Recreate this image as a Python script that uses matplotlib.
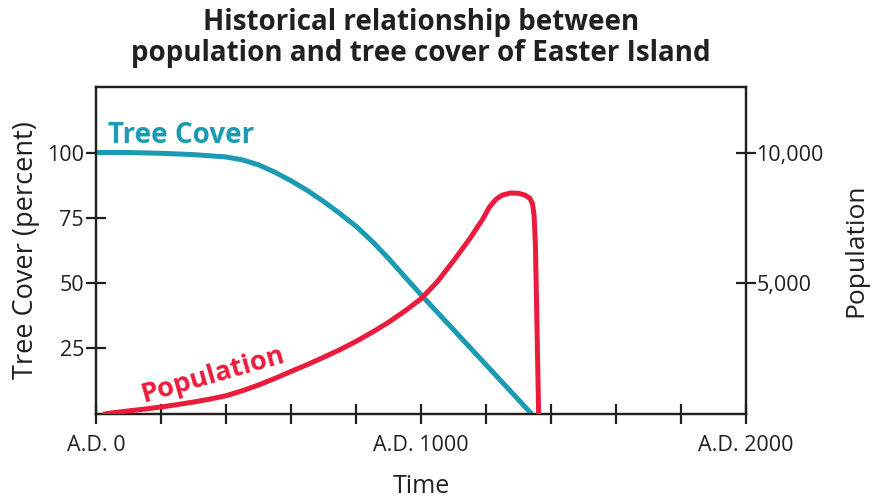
import numpy as np
import matplotlib.pyplot as plt

# tree cover (percent) by year
tree_years = [3, 100, 200, 300, 400, 450, 500, 550, 600, 650, 700, 750, 800, 850,
              900, 950, 1000, 1100, 1200, 1340]
tree_cover = [100, 100, 99.7, 99.2, 98.3, 97.2, 95.3, 92.5, 89.2, 85.5, 81.3, 76.7, 71.8, 66,
              59.5, 52.5, 45.6, 32.2, 18.8, 0]

# population by year
pop_years = [30, 60, 100, 150, 200, 250, 300, 350, 400, 450, 500, 550, 600, 650, 700, 750,
             800, 850, 900, 950, 1000, 1050, 1100, 1150, 1190, 1210, 1230, 1250, 1275,
             1300, 1320, 1335, 1343, 1348, 1352, 1356, 1359, 1362]
population = [0, 50, 110, 180, 260, 350, 450, 560, 690, 880, 1100, 1350, 1620, 1880, 2160,
              2450, 2770, 3120, 3500, 3930, 4400, 5050, 5850, 6700, 7450, 7900, 8200, 8370,
              8450, 8440, 8370, 8250, 8050, 7600, 6500, 4000, 2000, 0]

x_ticks = [0, 200, 400, 600, 800, 1000, 1200, 1400, 1600, 1800, 2000]
x_labels = ['A.D. 0', '', '', '', '', 'A.D. 1000', '', '', '', '', 'A.D. 2000']
tree_ticks = [25, 50, 75, 100]
pop_ticks = [5000, 10000]
pop_labels = ['5,000', '10,000']

teal = '#1b9ab3'
red = '#ec1b3b'
ink = '#231f20'

plt.rcParams['font.family'] = ['Open Sans', 'DejaVu Sans']

fig = plt.figure(figsize=(8.72, 5.04), dpi=100)
ax = fig.add_axes([0.110, 0.179, 0.7455, 0.648])
ax2 = ax.twinx()

ax.plot(tree_years, tree_cover, color=teal, lw=3.6, solid_capstyle='butt',
        solid_joinstyle='round', zorder=3)
ax2.plot(pop_years, population, color=red, lw=3.6, solid_joinstyle='round', zorder=3)

ax.set_xlim(0, 2000)
ax.set_ylim(0, 125)
ax2.set_ylim(0, 12500)

ax.set_xticks(x_ticks)
ax.set_xticklabels(x_labels)
ax.set_yticks(tree_ticks)
ax2.set_yticks(pop_ticks)
ax2.set_yticklabels(pop_labels)

for a in (ax, ax2):
    for s in a.spines.values():
        s.set_linewidth(1.6)
        s.set_color(ink)
    a.tick_params(direction='inout', length=15, width=1.6, color=ink,
                  labelcolor=ink, labelsize=15.5, pad=2)
ax.tick_params(axis='x', pad=8)
ax.tick_params(axis='y', pad=1)
ax2.tick_params(axis='y', pad=0)

ax.set_xlabel('Time', fontsize=18, color=ink, labelpad=13)
ax.set_ylabel('Tree Cover (percent)', fontsize=19.5, color=ink, labelpad=5)
ax2.set_ylabel('Population', fontsize=19, color=ink, labelpad=14)

ax.text(37, 106.5, 'Tree Cover', color=teal, fontsize=20,
        fontweight='bold', ha='left', va='center', zorder=4)
ax.text(362, 15, 'Population', color=red, fontsize=19.5, fontweight='bold',
        ha='center', va='center', rotation=16, zorder=4)

fig.text(0.483, 0.985, 'Historical relationship between\npopulation and tree cover of Easter Island',
         fontsize=20, fontweight='bold', color=ink, ha='center', va='top', linespacing=1.1)

fig.savefig('out.png', dpi=100)
